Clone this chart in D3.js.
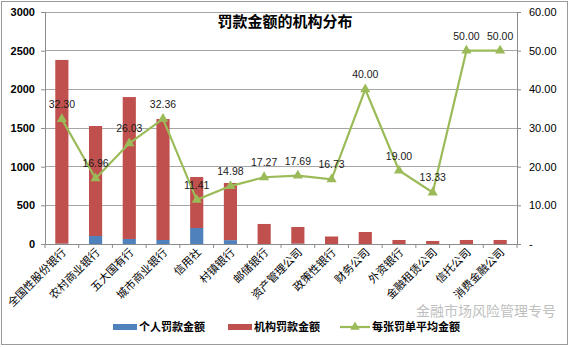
<!DOCTYPE html>
<html><head><meta charset="utf-8">
<script src="https://cdn.jsdelivr.net/npm/d3@7"></script>
<style>body{margin:0;background:#fff}svg{display:block;font-family:"Noto Sans CJK SC",sans-serif}</style>
</head><body>
<svg id="c" width="570" height="347"></svg>
<script>
const categories = ["全国性股份银行","农村商业银行","五大国有行","城市商业银行","信用社","村镇银行","邮储银行","资产管理公司","政策性银行","财务公司","外资银行","金融租赁公司","信托公司","消费金融公司"];
const personal = [5,103,65,52,207,50,0,5,0,0,0,0,0,0];
const institution = [2375,1423,1835,1564,659,739,259,215,97,155,52,39,52,52];
const avgAmount = [32.30,16.96,26.03,32.36,11.41,14.98,17.27,17.69,16.73,40.00,19.00,13.33,50.00,50.00];
const leftTicks = [0,500,1000,1500,2000,2500,3000];
const rightTicks = [0,10,20,30,40,50,60];
const seriesNames = ["个人罚款金额","机构罚款金额","每张罚单平均金额"];
const title = "罚款金额的机构分布";

const colors = {blue:"#4F81BD", red:"#C0504D", green:"#9BBB59"};
const svg = d3.select("#c");
const L=45, R=517, T=12, B=244;

svg.append("rect").attr("x",1.5).attr("y",1.5).attr("width",566).attr("height",343).attr("fill","#fff").attr("stroke","#9a9a9a");

const x = d3.scaleBand().domain(categories).range([L,R]).paddingInner(0.61).paddingOuter(0.305);
const xs = d3.scaleBand().domain(categories).range([L,R]);
const yL = d3.scaleLinear().domain([0,3000]).range([B,T]);
const yR = d3.scaleLinear().domain([0,60]).range([B,T]);

// gridlines
svg.append("g").selectAll("line").data(leftTicks.slice(1)).join("line")
  .attr("x1",L).attr("x2",R).attr("y1",d=>yL(d)).attr("y2",d=>yL(d))
  .attr("stroke","#a6a6a6").attr("stroke-width",1).attr("shape-rendering","crispEdges");

// bars
const stacked = categories.map((c,i)=>({c, p:personal[i], s:institution[i]}));
svg.append("g").selectAll("rect").data(stacked).join("rect")
  .attr("x",d=>x(d.c)).attr("width",x.bandwidth())
  .attr("y",d=>yL(d.p)).attr("height",d=>yL(0)-yL(d.p)).attr("fill",colors.blue);
svg.append("g").selectAll("rect").data(stacked).join("rect")
  .attr("x",d=>x(d.c)).attr("width",x.bandwidth())
  .attr("y",d=>yL(d.p+d.s)).attr("height",d=>yL(d.p)-yL(d.p+d.s)).attr("fill",colors.red);

// axes
const axL = svg.append("g").attr("transform",`translate(${L},0)`)
  .call(d3.axisLeft(yL).tickValues(leftTicks).tickSize(4).tickPadding(6).tickFormat(d3.format("d")));
axL.select(".domain").attr("stroke","#8c8c8c");
axL.selectAll(".tick line").attr("stroke","#8c8c8c");
axL.selectAll("text").attr("font-size",11).attr("font-weight","bold").attr("fill","#000").attr("font-family","Liberation Sans, Arial, sans-serif");

const axR = svg.append("g").attr("transform",`translate(${R},0)`)
  .call(d3.axisRight(yR).tickValues(rightTicks).tickSize(4).tickPadding(8).tickFormat(d=>d===0?"-":d3.format(".2f")(d)));
axR.select(".domain").attr("stroke","#8c8c8c");
axR.selectAll(".tick line").attr("stroke","#8c8c8c");
axR.selectAll("text").attr("font-size",11).attr("fill","#000").attr("font-family","Liberation Sans, Arial, sans-serif");

const axB = svg.append("g").attr("transform",`translate(0,${B})`)
  .call(d3.axisBottom(xs).tickSize(0).tickFormat(""));
axB.select(".domain").attr("stroke","#8c8c8c");
svg.append("g").selectAll("line").data(d3.range(categories.length+1)).join("line")
  .attr("x1",i=>L+i*xs.step()).attr("x2",i=>L+i*xs.step())
  .attr("y1",B).attr("y2",B+4).attr("stroke","#8c8c8c");
svg.append("g").selectAll("text").data(categories).join("text")
  .attr("transform",d=>`translate(${xs(d)+xs.bandwidth()/2+5},${B+9}) rotate(-45)`)
  .attr("text-anchor","end").attr("font-size",11).attr("fill","#000").text(d=>d);

// line
const pts = categories.map((c,i)=>({c,v:avgAmount[i]}));
svg.append("path").datum(pts)
  .attr("d",d3.line().x(d=>xs(d.c)+xs.bandwidth()/2).y(d=>yR(d.v)))
  .attr("fill","none").attr("stroke",colors.green).attr("stroke-width",2.2);
svg.append("g").selectAll("path").data(pts).join("path")
  .attr("d",d3.symbol().type(d3.symbolTriangle).size(45))
  .attr("transform",d=>`translate(${xs(d.c)+xs.bandwidth()/2},${yR(d.v)})`)
  .attr("fill",colors.green);
svg.append("g").selectAll("text").data(pts).join("text")
  .attr("x",d=>xs(d.c)+xs.bandwidth()/2).attr("y",d=>yR(d.v)-11)
  .attr("text-anchor","middle").attr("font-size",10.5).attr("fill","#1a1a1a")
  .attr("font-family","Liberation Sans, Arial, sans-serif")
  .text(d=>d3.format(".2f")(d.v));

// title
svg.append("text").attr("x",285).attr("y",27).attr("text-anchor","middle")
  .attr("font-size",15).attr("font-weight","bold").attr("fill","#000").text(title);

// legend
const lg = svg.append("g").attr("font-size",11).attr("font-weight","bold");
lg.append("rect").attr("x",113).attr("y",324).attr("width",24).attr("height",6).attr("fill",colors.blue);
lg.append("text").attr("x",139).attr("y",331).text(seriesNames[0]);
lg.append("rect").attr("x",228).attr("y",324).attr("width",24).attr("height",6).attr("fill",colors.red);
lg.append("text").attr("x",254).attr("y",331).text(seriesNames[1]);
lg.append("line").attr("x1",340).attr("x2",370).attr("y1",327).attr("y2",327).attr("stroke",colors.green).attr("stroke-width",2.2);
lg.append("path").attr("d",d3.symbol().type(d3.symbolTriangle).size(40)).attr("transform","translate(355,327)").attr("fill",colors.green);
lg.append("text").attr("x",372).attr("y",331).text(seriesNames[2]);

// watermark
svg.append("text").attr("x",416).attr("y",316).attr("font-size",14).attr("fill","#b5b5b5").attr("opacity",0.85).text("金融市场风险管理专号");
</script>
</body></html>
